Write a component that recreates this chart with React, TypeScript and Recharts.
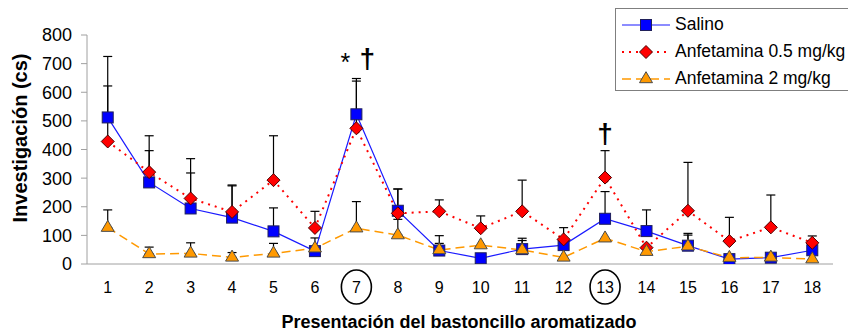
import React from 'react';
import { LineChart, Line, XAxis, YAxis, ErrorBar, ReferenceDot, Legend } from 'recharts';

// Presentations of the scented swab (x) and investigation time in cs (y)
const sessions = [1, 2, 3, 4, 5, 6, 7, 8, 9, 10, 11, 12, 13, 14, 15, 16, 17, 18];
const sessionEdges = [0.5, 1.5, 2.5, 3.5, 4.5, 5.5, 6.5, 7.5, 8.5, 9.5, 10.5, 11.5, 12.5, 13.5, 14.5, 15.5, 16.5, 17.5, 18.5];
const circledSessions = [7, 13];
const yTicks = [0, 100, 200, 300, 400, 500, 600, 700, 800];

const salino = [512, 285, 194, 162, 114, 45, 523, 186, 47, 20, 52, 66, 158, 115, 64, 17, 22, 48];
const salinoSem = [213, 111, 124, 111, 82, 46, 125, 76, 52, null, 38, null, 95, 74, 43, null, null, null];

const anf05 = [428, 321, 229, 182, 293, 126, 474, 177, 184, 125, 184, 86, 302, 57, 186, 80, 128, 74];
const anf05Sem = [194, 127, 139, 94, 155, 58, 165, 85, 40, 43, 109, 41, 94, null, 169, 83, 113, 24];

const anf2 = [127, 35, 37, 23, 37, 55, 125, 101, 49, 66, 49, 23, 90, 43, 62, 22, 23, 17];
const anf2Sem = [62, 24, 37, 17, 35, null, 93, 55, 23, null, 33, null, null, null, 39, null, null, null];

const seriesNames = ['Salino', 'Anfetamina 0.5 mg/kg', 'Anfetamina 2 mg/kg'];

const FONT = '"Liberation Sans", Arial, sans-serif';

const upperOnly = (v: number | null) => (v == null ? null : [0, v]);

const rows = sessions.map((s, i) => ({
  x: s,
  salino: salino[i],
  salinoErr: upperOnly(salinoSem[i]),
  anf05: anf05[i],
  anf05Err: upperOnly(anf05Sem[i]),
  anf2: anf2[i],
  anf2Err: upperOnly(anf2Sem[i]),
}));

// Marker shapes
const SquareMark = ({ cx, cy }: { cx: number; cy: number }) => (
  <rect x={cx - 5.5} y={cy - 5.5} width={11} height={11} fill="#0000FF" stroke="#20205a" strokeWidth={1} />
);
const DiamondMark = ({ cx, cy }: { cx: number; cy: number }) => (
  <polygon
    points={`${cx},${cy - 6.5} ${cx + 6.5},${cy} ${cx},${cy + 6.5} ${cx - 6.5},${cy}`}
    fill="#FF0000"
    stroke="#4a0000"
    strokeWidth={1}
  />
);
const TriangleMark = ({ cx, cy }: { cx: number; cy: number }) => (
  <polygon
    points={`${cx},${cy - 7.3} ${cx + 6.5},${cy + 3.7} ${cx - 6.5},${cy + 3.7}`}
    fill="#FF9900"
    stroke="#4a4a4a"
    strokeWidth={1}
  />
);

const seriesStyle = [
  { key: 'salino', err: 'salinoErr', stroke: '#1a1aff', width: 1.2, dash: undefined, Mark: SquareMark },
  { key: 'anf05', err: 'anf05Err', stroke: '#FF0000', width: 2, dash: '2 5', Mark: DiamondMark },
  { key: 'anf2', err: 'anf2Err', stroke: '#FF9900', width: 1.5, dash: '9 5', Mark: TriangleMark },
];

const SessionTick = (props: any) => {
  const { x, y, payload } = props;
  const v = payload.value;
  const cy = y + 10;
  return (
    <g>
      {circledSessions.includes(v) && (
        <ellipse cx={x} cy={cy} rx={15} ry={17} fill="none" stroke="#000" strokeWidth={1.6} />
      )}
      <text x={x} y={cy} dy="0.36em" textAnchor="middle" fontSize={16} fill="#000" fontFamily={FONT}>
        {v}
      </text>
    </g>
  );
};

const LegendBox = () => (
  <div
    style={{
      width: 240,
      height: 83,
      boxSizing: 'border-box',
      border: '1px solid #7f7f7f',
      background: '#fff',
      paddingTop: 2,
      paddingLeft: 6,
      fontFamily: FONT,
      fontSize: 17.5,
      color: '#000',
    }}
  >
    {seriesStyle.map((s, i) => (
      <div key={s.key} style={{ height: 27, display: 'flex', alignItems: 'center' }}>
        <svg width={53} height={20} style={{ flex: 'none' }}>
          <line x1={0} y1={10} x2={48} y2={10} stroke={s.stroke} strokeWidth={s.width} strokeDasharray={s.dash} />
          <s.Mark cx={24} cy={10} />
        </svg>
        <span style={{ whiteSpace: 'nowrap' }}>{seriesNames[i]}</span>
      </div>
    ))}
  </div>
);

const Marks = ({ viewBox, marks }: any) => {
  const cx = viewBox.x + viewBox.width / 2;
  const cy = viewBox.y + viewBox.height / 2;
  return (
    <g fontFamily={FONT} fill="#000">
      {marks.includes('*') && (
        <text x={cx - 11} y={cy + 13} textAnchor="middle" fontSize={25}>
          *
        </text>
      )}
      <text x={marks.includes('*') ? cx + 11 : cx} y={cy + 10} textAnchor="middle" fontSize={28} fontWeight="bold">
        †
      </text>
    </g>
  );
};

export default function App() {
  return (
    <div style={{ position: 'absolute', left: 0, top: 0, width: 848, height: 333, overflow: 'hidden', background: '#fff' }}>
      <LineChart width={848} height={333} data={rows} margin={{ top: 35, right: 15, bottom: 34, left: 0 }}>
        <XAxis
          xAxisId="edges"
          type="number"
          dataKey="x"
          domain={[0.5, 18.5]}
          ticks={sessionEdges}
          tick={false}
          tickSize={5}
          height={5}
          stroke="#a0a0a0"
          allowDataOverflow
        />
        <XAxis
          xAxisId="main"
          type="number"
          dataKey="x"
          domain={[0.5, 18.5]}
          ticks={sessions}
          interval={0}
          axisLine={false}
          tickLine={false}
          height={30}
          tick={<SessionTick />}
          allowDataOverflow
          label={{
            content: ({ viewBox }: any) => (
              <text
                x={viewBox.x + viewBox.width / 2 - 1}
                y={viewBox.y + viewBox.height + 29}
                textAnchor="middle"
                fontSize={18}
                fontWeight="bold"
                fontFamily={FONT}
                fill="#000"
              >
                Presentación del bastoncillo aromatizado
              </text>
            ),
          }}
        />
        <YAxis
          domain={[0, 800]}
          ticks={yTicks}
          interval={0}
          width={87}
          tickSize={6}
          tickMargin={9}
          stroke="#a0a0a0"
          allowDataOverflow
          tick={{ fill: '#000', fontSize: 18, fontFamily: FONT }}
          label={{
            content: () => (
              <text
                x={27}
                y={138}
                transform="rotate(-90 27 138)"
                textAnchor="middle"
                fontSize={20}
                fontWeight="bold"
                fontFamily={FONT}
                fill="#000"
              >
                Investigación (cs)
              </text>
            ),
          }}
        />
        {seriesStyle.map((s) => (
          <Line
            key={s.key}
            xAxisId="main"
            dataKey={s.key}
            stroke={s.stroke}
            strokeWidth={s.width}
            strokeDasharray={s.dash}
            isAnimationActive={false}
            dot={(p: any) => <s.Mark key={`${s.key}-${p.index}`} cx={p.cx} cy={p.cy} />}
            activeDot={false}
          >
            <ErrorBar dataKey={s.err} direction="y" width={4.5} stroke="#000" strokeWidth={1.2} />
          </Line>
        ))}
        <ReferenceDot
          xAxisId="main"
          x={7}
          y={720}
          r={1}
          fill="none"
          stroke="none"
          label={{ content: (p: any) => <Marks viewBox={p.viewBox} marks="*†" /> }}
        />
        <ReferenceDot
          xAxisId="main"
          x={13}
          y={457}
          r={1}
          fill="none"
          stroke="none"
          label={{ content: (p: any) => <Marks viewBox={p.viewBox} marks="†" /> }}
        />
        <Legend
          layout="vertical"
          align="center"
          verticalAlign="middle"
          content={() => <LegendBox />}
          wrapperStyle={{ position: 'absolute', left: 615, top: 8, width: 240 }}
        />
      </LineChart>
    </div>
  );
}
